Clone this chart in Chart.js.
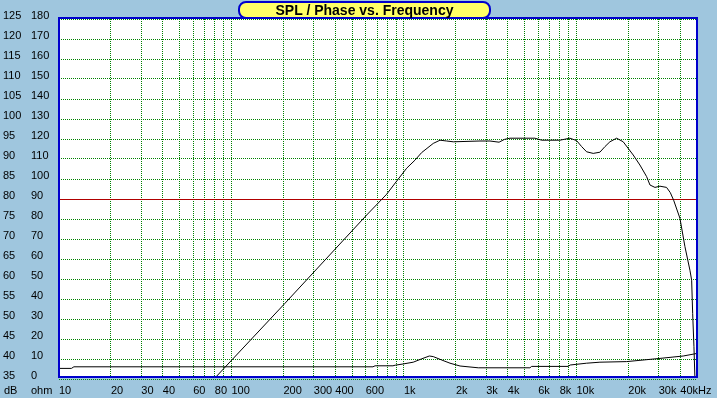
<!DOCTYPE html>
<html>
<head>
<meta charset="utf-8">
<title>SPL / Phase vs. Frequency</title>
<script src="https://cdn.jsdelivr.net/npm/chart.js@4.4.1/dist/chart.umd.min.js"></script>
<style>
    html, body { margin: 0; padding: 0; background: #9fc6de; }
    #wrap { position: relative; width: 717px; height: 398px; overflow: hidden; background: #9fc6de; }
    #c { display: block; }
    #title {
        position: absolute;
        left: 238px;
        top: 1px;
        width: 253px;
        height: 18px;
        box-sizing: border-box;
        border: 2px solid #0000cd;
        border-radius: 8px;
        background: #ffff66;
        color: #000;
        font: bold 14px "Liberation Sans", Arial, sans-serif;
        line-height: 14px;
        text-align: center;
    }
</style>
</head>
<body>
<div id="wrap">
    <canvas id="c" width="717" height="398"></canvas>
    <div id="title">SPL / Phase vs. Frequency</div>
</div>
<script>
// 频率轴：网格线位置 (Hz) 和下方显示的刻度文字
const xGridValues = [10, 20, 30, 40, 50, 60, 70, 80, 90,
    100, 200, 300, 400, 500, 600, 700, 800, 900,
    1000, 2000, 3000, 4000, 5000, 6000, 7000, 8000, 9000,
    10000, 20000, 30000, 40000, 50000];
const xLabelValues = [10, 20, 30, 40, 60, 80, 100, 200, 300, 400, 600,
    1000, 2000, 3000, 4000, 6000, 8000, 10000, 20000, 30000, 40000];
const xLabelTexts = ['10', '20', '30', '40', '60', '80', '100', '200', '300', '400', '600',
    '1k', '2k', '3k', '4k', '6k', '8k', '10k', '20k', '30k', '40kHz'];

// 左侧两列刻度
const dbMin = 35, dbMax = 125, dbStep = 5;
const ohmMin = 0, ohmMax = 180, ohmStep = 10;
const refLevelDb = 80;   // 红色参考线

// 声压曲线 (dB)
const splFreq = [80.8, 204, 608, 743, 794, 901, 1037, 1158, 1266, 1479, 1618, 1768, 1932,
    2760, 3152, 3560, 3824, 4115, 5741, 6285, 8020, 9160, 10020, 10720, 11460, 12510,
    13680, 14630, 15630, 17100, 18670, 21340, 23330, 25520, 26690, 28520, 30500, 33300,
    35000, 36600, 39800, 42560, 45500, 46550, 47190, 48000, 48650];
const splDb = [35.4, 53.9, 76.0, 79.9, 81.2, 84.3, 87.7, 89.7, 91.6, 93.9, 94.7, 94.5, 94.3,
    94.5, 94.5, 94.2, 94.9, 95.2, 95.2, 94.7, 94.7, 95.2, 94.6, 93.1, 91.8, 91.4,
    91.7, 93.1, 94.3, 95.2, 94.3, 91.0, 88.5, 85.6, 83.5, 82.9, 83.2, 82.9,
    81.6, 79.7, 75.2, 68.1, 62.2, 59.7, 51.4, 43.1, 35.0];

// 阻抗曲线 (ohm)
const impFreq = [10, 11.8, 12.2, 661, 680, 863, 890, 986, 1132, 1268, 1403, 1479, 1655,
    1849, 2114, 2698, 5373, 5500, 8954, 9200, 11460, 13680, 19550, 30490, 41590, 48000, 50000];
const impOhm = [5.3, 5.3, 6.1, 6.1, 6.6, 6.6, 6.9, 7.5, 8.4, 10.1, 11.5, 11.2, 9.5,
    7.9, 6.5, 5.6, 5.6, 6.3, 6.3, 7.0, 7.9, 8.4, 8.7, 10.3, 11.5, 12.5, 12.8];

const BG = '#9fc6de';
const FRAME = '#0000cd';
const GRID = '#008000';
const REF = '#b00000';

Chart.defaults.font.family = '"Liberation Sans", Arial, sans-serif';
Chart.defaults.font.size = 11;
Chart.defaults.color = '#000';

// 背景、白色绘图区、蓝色边框、dB / ohm 单位
const framePlugin = {
    id: 'framePlugin',
    beforeDraw(chart) {
        const {ctx, chartArea: a} = chart;
        ctx.save();
        ctx.fillStyle = BG;
        ctx.fillRect(0, 0, chart.width, chart.height);
        ctx.fillStyle = '#ffffff';
        ctx.fillRect(a.left, a.top - 1, a.right - a.left, a.bottom - a.top - 1);
        ctx.restore();
    },
    afterDraw(chart) {
        const {ctx, chartArea: a} = chart;
        ctx.save();
        ctx.strokeStyle = FRAME;
        ctx.lineWidth = 2;
        ctx.strokeRect(a.left, a.top - 1, a.right - a.left, a.bottom - a.top - 1);
        ctx.fillStyle = '#000';
        ctx.font = '11px "Liberation Sans", Arial, sans-serif';
        ctx.textAlign = 'left';
        ctx.textBaseline = 'middle';
        ctx.fillText('dB', chart.scales.y.left + 1, 391);
        ctx.fillText('ohm', chart.scales.y1.left, 391);
        ctx.restore();
    }
};

const splPoints = splFreq.map((f, i) => ({x: f, y: splDb[i]}));
const impPoints = impFreq.map((f, i) => ({x: f, y: impOhm[i]}));
const lineClip = {left: -1, top: -1, right: -1, bottom: -2};

new Chart(document.getElementById('c'), {
    type: 'line',
    data: {
        datasets: [
            {
                label: 'SPL',
                data: splPoints,
                yAxisID: 'y',
                borderColor: '#000',
                borderWidth: 1,
                pointRadius: 0,
                tension: 0,
                clip: lineClip
            },
            {
                label: 'Impedance',
                data: impPoints,
                yAxisID: 'y1',
                borderColor: '#000',
                borderWidth: 1,
                pointRadius: 0,
                tension: 0,
                clip: lineClip
            }
        ]
    },
    options: {
        responsive: false,
        devicePixelRatio: 1,
        animation: false,
        events: [],
        layout: {
            padding: {left: 3, right: 20, top: 19, bottom: 0}
        },
        plugins: {
            legend: {display: false},
            title: {display: false},
            tooltip: {enabled: false}
        },
        scales: {
            x: {
                type: 'logarithmic',
                position: 'bottom',
                min: 10,
                max: 50000,
                afterBuildTicks: scale => {
                    scale.ticks = xGridValues.map(v => ({value: v}));
                },
                afterFit: scale => { scale.height = 19; },
                grid: {
                    color: GRID,
                    lineWidth: 1,
                    drawTicks: false
                },
                border: {display: false, dash: [1, 1]},
                ticks: {
                    autoSkip: false,
                    maxRotation: 0,
                    minRotation: 0,
                    align: 'start',
                    padding: 5,
                    callback: value => {
                        const i = xLabelValues.indexOf(value);
                        return i >= 0 ? xLabelTexts[i] : '';
                    }
                }
            },
            y: {
                type: 'linear',
                position: 'left',
                weight: 2,
                min: dbMin,
                max: dbMax,
                afterFit: scale => { scale.width = 28; },
                grid: {
                    color: ctx => (ctx.tick && ctx.tick.value === refLevelDb) ? REF : GRID,
                    lineWidth: 1,
                    drawTicks: false
                },
                border: {
                    display: false,
                    dash: ctx => (ctx.tick && ctx.tick.value === refLevelDb) ? [] : [1, 1]
                },
                ticks: {
                    stepSize: dbStep,
                    autoSkip: false,
                    crossAlign: 'far',
                    labelOffset: -3,
                    padding: 0
                }
            },
            y1: {
                type: 'linear',
                position: 'left',
                weight: 1,
                min: ohmMin,
                max: ohmMax,
                afterFit: scale => { scale.width = 28; },
                grid: {display: false, drawTicks: false},
                border: {display: false},
                ticks: {
                    stepSize: ohmStep,
                    autoSkip: false,
                    crossAlign: 'far',
                    labelOffset: -3,
                    padding: 0
                }
            }
        }
    },
    plugins: [framePlugin]
});
</script>
</body>
</html>
